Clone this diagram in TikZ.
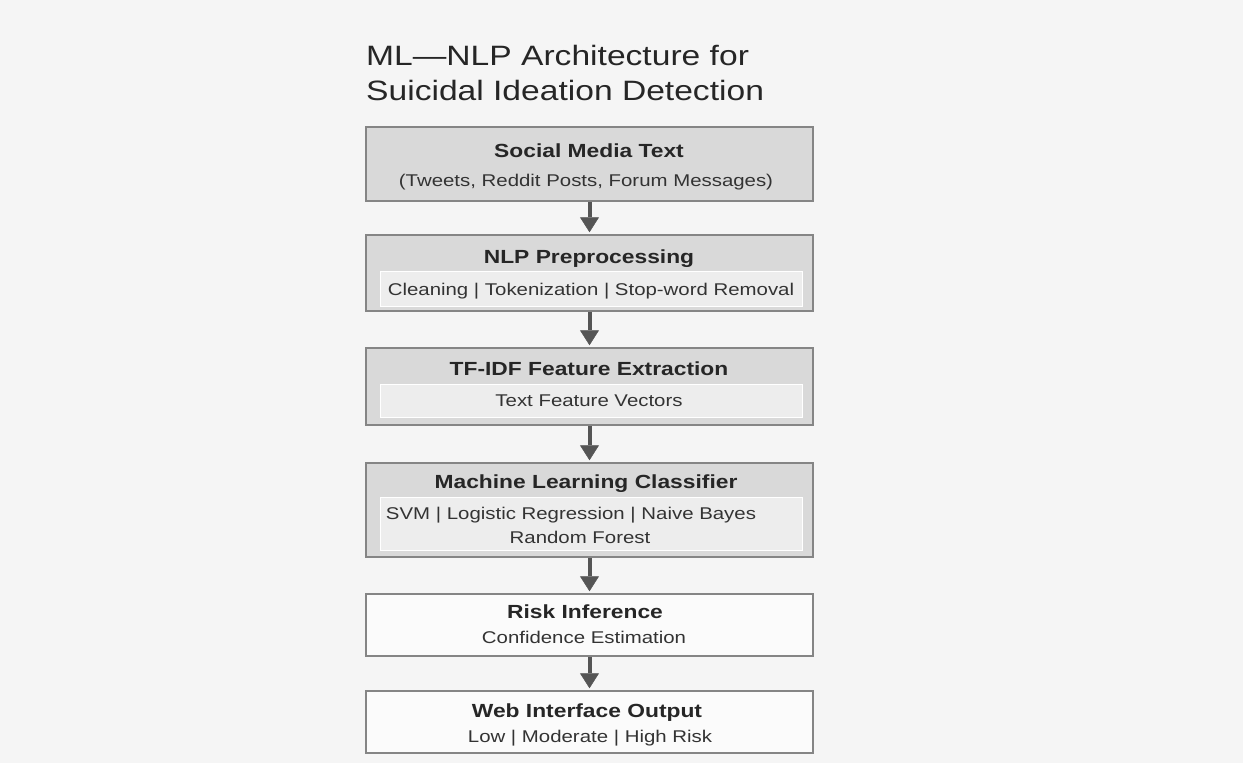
\documentclass[tikz,border=0pt]{standalone}
\usepackage{fontspec}
\setmainfont{Liberation Sans}[FakeStretch=1.2]
\usetikzlibrary{arrows.meta}
\definecolor{paper}{HTML}{F5F5F5}
\definecolor{boxgray}{HTML}{D9D9D9}
\definecolor{innergray}{HTML}{EDEDED}
\definecolor{edgegray}{HTML}{858585}
\definecolor{arrowgray}{HTML}{555555}

\begin{document}
\begin{tikzpicture}[x=1pt, y=-1pt, inner sep = 0pt,
  stage/.style = {draw=edgegray, line width=1.5pt, fill=boxgray, minimum width=447pt},
  plainstage/.style = {stage, fill=white!97!gray},
  innerbox/.style = {draw=white, line width=1pt, fill=innergray, minimum width=422pt},
  head/.style = {anchor=base, font=\fontsize{19}{22}\selectfont\bfseries, text=black!85},
  sub/.style = {anchor=base, font=\fontsize{17}{20}\selectfont, text=black!80},
  flow/.style = {-{Triangle[width=19pt,length=15pt,line width=0.5pt,color=arrowgray,fill=arrowgray]}, line width=4pt, color=arrowgray, shorten >=2pt}]
  \fill[paper] (0,0) rectangle (1243,763);
  \useasboundingbox (0,0) rectangle (1243,763);

  \node (title1) at (366,65) [anchor=base west, font=\fontsize{28}{32}\selectfont, text=black!85] {ML—NLP Architecture for};
  \node (title2) at (366,100) [anchor=base west, font=\fontsize{28}{32}\selectfont, text=black!85] {Suicidal Ideation Detection};

  \node (s1) at (589.5,164) [stage, minimum height=74pt] {};
  \node (s1head) at (589,157) [head] {Social Media Text};
  \node (s1sub) at (586,186) [sub] {(Tweets, Reddit Posts, Forum Messages)};

  \node (s2) at (589.5,273) [stage, minimum height=76pt] {};
  \node (s2in) at (591,288.5) [innerbox, minimum height=35pt] {};
  \node (s2head) at (589,263) [head] {NLP Preprocessing};
  \node (s2sub) at (591,295) [sub] {Cleaning | Tokenization | Stop-word Removal};

  \node (s3) at (589.5,386.5) [stage, minimum height=77pt] {};
  \node (s3in) at (591,400.5) [innerbox, minimum height=33pt] {};
  \node (s3head) at (589,375) [head] {TF-IDF Feature Extraction};
  \node (s3sub) at (589,406) [sub] {Text Feature Vectors};

  \node (s4) at (589.5,510) [stage, minimum height=94pt] {};
  \node (s4in) at (591,523.5) [innerbox, minimum height=53pt] {};
  \node (s4head) at (586,488) [head] {Machine Learning Classifier};
  \node (s4sub1) at (571,519) [sub] {SVM | Logistic Regression | Naive Bayes};
  \node (s4sub2) at (580,543) [sub] {Random Forest};

  \node (s5) at (589.5,625) [plainstage, minimum height=62pt] {};
  \node (s5head) at (585,618) [head] {Risk Inference};
  \node (s5sub) at (584,643) [sub] {Confidence Estimation};

  \node (s6) at (589.5,722) [plainstage, minimum height=62pt] {};
  \node (s6head) at (587,717) [head] {Web Interface Output};
  \node (s6sub) at (590,742) [sub] {Low | Moderate | High Risk};

  \path[flow] (s1) edge (s2);
  \path[flow] (s2) edge (s3);
  \path[flow] (s3) edge (s4);
  \path[flow] (s4) edge (s5);
  \path[flow] (s5) edge (s6);
\end{tikzpicture}
\end{document}
